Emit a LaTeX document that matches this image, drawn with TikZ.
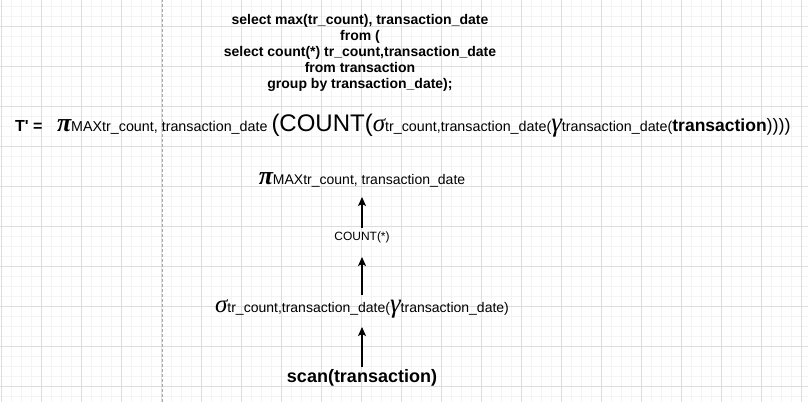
\documentclass[tikz,border=0pt]{standalone}
\usepackage{fontspec}
\setmainfont{Liberation Sans}
\newfontfamily\plainsans{Liberation Sans}
\newfontfamily\grk{Liberation Serif}
\usetikzlibrary{arrows.meta}
\definecolor{minorgrid}{HTML}{F4F4F4}
\definecolor{majorgrid}{HTML}{DDDDDD}
\definecolor{pagebreak}{HTML}{A8A8A8}
\newcommand{\fs}[1]{\fontsize{#1}{#1}\selectfont}
\begin{document}
\begin{tikzpicture}[x=1pt,y=1pt,
  lbl/.style={inner sep=0pt,outer sep=0pt,anchor=base},
  sqltxt/.style={lbl,font=\fs{14}\bfseries},
  arr/.style={draw=black,line width=1.2pt,-{Stealth[length=9pt,width=8pt,inset=2pt]}}]
\useasboundingbox (0,0) rectangle (808,402);
\fill[white] (0,0) rectangle (808,402);
% minor grid
\foreach \k in {0,...,80} {\draw[minorgrid,line width=0.7pt] (1.7+10*\k,0) -- (1.7+10*\k,402);}
\foreach \k in {0,...,40} {\draw[minorgrid,line width=0.7pt] (0,396-10*\k) -- (808,396-10*\k);}
% major grid
\foreach \k in {0,...,20} {\draw[majorgrid,line width=0.8pt] (1.7+40*\k,0) -- (1.7+40*\k,402);}
\foreach \k in {0,...,10} {\draw[majorgrid,line width=0.8pt] (0,416-40*\k) -- (808,416-40*\k);}
% page break
\draw[pagebreak,line width=0.8pt,dash pattern=on 3pt off 2pt] (162,0) -- (162,402);
% SQL
\node[sqltxt] (sql1) at (360,377) {select max(tr\_count), transaction\_date};
\node[sqltxt] (sql2) at (360,361) {from (};
\node[sqltxt] (sql3) at (360,345) {select count(*) tr\_count,transaction\_date};
\node[sqltxt] (sql4) at (360,329) {from transaction};
\node[sqltxt] (sql5) at (360,313) {group by transaction\_date);};
% formula
\node[lbl,anchor=base west,font=\plainsans\fs{16}\bfseries] (tp) at (15,270) {T' =};
\node[lbl,anchor=base west] (expr) at (57,270) {{\fs{26}\grk\bfseries\itshape π}{\fs{14.3}MAXtr\_count, transaction\_date }{\fs{24}(COUNT(}{\fs{25}\grk\itshape σ}{\fs{14.3}tr\_count,transaction\_date(}{\fs{27}\grk\itshape γ}{\fs{14.3}transaction\_date(}{\fs{17.5}\bfseries transaction}{\fs{18}))))}};
% tree
\node[lbl] (pi) at (362,217) {{\fs{26}\grk\bfseries\itshape π}{\fs{14}MAXtr\_count, transaction\_date}};
\node[lbl,font=\fs{12}] (cnt) at (362,161) {COUNT(*)};
\node[lbl] (sig) at (362,90) {{\fs{25}\grk\itshape σ}{\fs{14}tr\_count,transaction\_date(}{\fs{27}\grk\itshape γ}{\fs{14}transaction\_date)}};
\node[lbl,font=\fs{18}\bfseries] (scan) at (362,19.7) {scan(transaction)};
\draw[arr] ([yshift=13pt]cnt.base) -- ([yshift=-12pt]pi.base);
\draw[arr] ([yshift=17pt]sig.base) -- ([yshift=-16pt]cnt.base);
\draw[arr] ([yshift=15pt]scan.base) -- ([yshift=-15pt]sig.base);
\end{tikzpicture}
\end{document}
